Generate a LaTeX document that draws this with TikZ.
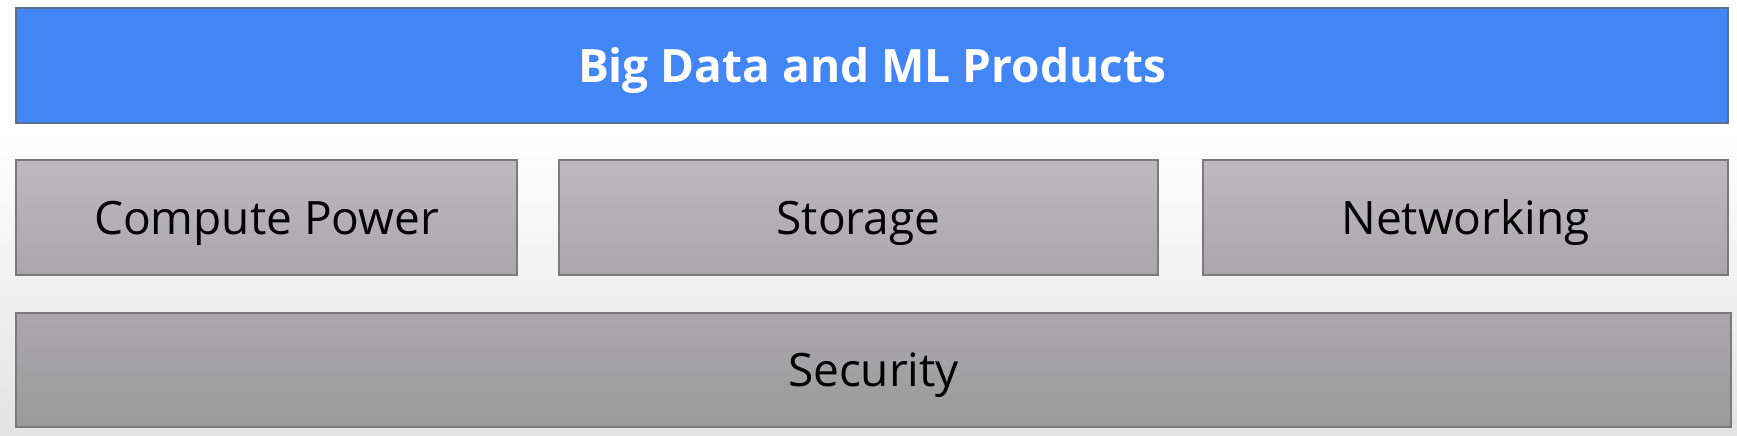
\documentclass[tikz,border=0pt]{standalone}
\usepackage{fontspec}
\setmainfont{Open Sans}
\definecolor{gblue}{HTML}{4285F4}
\definecolor{gblueedge}{HTML}{5A6E90}
\definecolor{boxedge}{HTML}{7A7A7A}
\definecolor{midtop}{HTML}{BCBABD}
\definecolor{midbot}{HTML}{A9A7AA}
\definecolor{sectop}{HTML}{AAA8AB}
\definecolor{secbot}{HTML}{9A9A9A}
\definecolor{bgbot}{HTML}{E3E3E3}
\tikzset{
  layer/.style={draw=boxedge, line width=1.5pt, inner sep=0pt, outer sep=0pt,
    text height=33pt, text depth=0pt, font=\fontsize{46}{50}\selectfont, text=black},
  midbox/.style={layer, top color=midtop, bottom color=midbot},
  secbox/.style={layer, top color=sectop, bottom color=secbot},
  bluebox/.style={layer, draw=gblueedge, fill=gblue, text=white, font=\fontsize{46}{50}\selectfont\bfseries},
}
\begin{document}
\begin{tikzpicture}[x=1pt,y=1pt]
  \useasboundingbox (0,0) rectangle (1737,-436);
  \fill[white] (0,0) rectangle (1737,-436);
  \shade[top color=white, bottom color=bgbot] (0,-130) rectangle (1737,-436);
  \node[bluebox, minimum width=1712pt, minimum height=115pt] (big) at (872,-65.5) {Big Data and ML Products};
  \node[midbox, minimum width=501pt, minimum height=115pt] (compute) at (266.5,-217.5) {Compute Power};
  \node[midbox, minimum width=599pt, minimum height=115pt] (storage) at (858.5,-217.5) {Storage};
  \node[midbox, minimum width=525pt, minimum height=115pt] (net) at (1465.5,-217.5) {Networking};
  \node[secbox, minimum width=1715pt, minimum height=114pt] (sec) at (873.5,-370) {Security};
\end{tikzpicture}
\end{document}
